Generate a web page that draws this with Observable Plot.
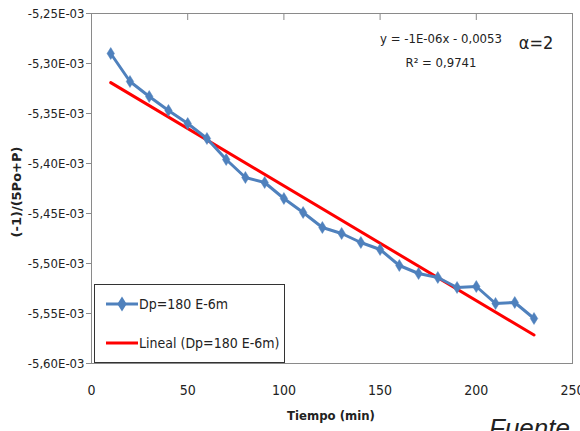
<!DOCTYPE html>
<html><head><meta charset="utf-8">
<script src="https://cdn.jsdelivr.net/npm/d3@7"></script>
<script src="https://cdn.jsdelivr.net/npm/@observablehq/plot@0.6"></script>
<style>
html,body{margin:0;padding:0;background:#fff;}
#chart{width:580px;height:431px;overflow:hidden;}
</style></head>
<body><div id="chart"></div>
<script>
const tiempo = [10,20,30,40,50,60,70,80,90,100,110,120,130,140,150,160,170,180,190,200,210,220,230];
const valor = [-5.290,-5.318,-5.333,-5.347,-5.360,-5.375,-5.396,-5.414,-5.419,-5.435,-5.449,-5.464,-5.470,-5.479,-5.486,-5.502,-5.510,-5.514,-5.524,-5.523,-5.540,-5.539,-5.555].map(v => v * 1e-3);
const yTicks = [-5.25e-3,-5.30e-3,-5.35e-3,-5.40e-3,-5.45e-3,-5.50e-3,-5.55e-3,-5.60e-3];
const xTicks = [0,50,100,150,200,250];
const topTicks = [50,100,150,200];
const seriesName = "Dp=180 E-6m";
const trendName = "Lineal (Dp=180 E-6m)";
const equation = "y = -1E-06x - 0,0053";
const r2 = "R² = 0,9741";
const alphaText = "α=2";

const data = tiempo.map((t,i) => ({t, v: valor[i]}));
const font = "'DejaVu Sans Condensed',sans-serif";
const blue = "#4F81BD", red = "#FF0000";
const fmtY = d => (d*1000).toFixed(2).replace(".", ",") + "E-03";
const narrowDiamond = {
  draw(ctx, size) {
    const h = Math.sqrt(size) * 0.75, w = h * 0.62;
    ctx.moveTo(0, -h); ctx.lineTo(w, 0); ctx.lineTo(0, h); ctx.lineTo(-w, 0); ctx.closePath();
  }
};

const plot = Plot.plot({
  width: 580, height: 431,
  marginLeft: 91, marginRight: 8, marginTop: 13, marginBottom: 68,
  style: {fontFamily: font, fontSize: "13px", color: "#222", background: "#fff"},
  x: {domain: [0, 250]},
  y: {domain: [-5.60e-3, -5.25e-3]},
  marks: [
    Plot.frame({stroke: "#8a8a8a", strokeWidth: 1}),
    Plot.ruleX(topTicks, {x: d => d, y1: -5.25e-3, y2: -5.257e-3, stroke: "#8a8a8a"}),
    Plot.axisY(yTicks, {tickFormat: fmtY, tickSize: 5, tickPadding: 2, stroke: "#8a8a8a", fontSize: 13, label: null}),
    Plot.axisX(xTicks, {tickSize: 0, tickPadding: 22, fontSize: 14, label: null}),
    Plot.linearRegressionY(data, {x: "t", y: "v", stroke: red, strokeWidth: 3, ci: 0}),
    Plot.line(data, {x: "t", y: "v", stroke: blue, strokeWidth: 3}),
    Plot.dot(data, {x: "t", y: "v", symbol: narrowDiamond, r: 4.5, fill: blue, stroke: blue, strokeWidth: 0.5})
  ]
});
const svg = d3.select(plot);
svg.attr("font-family", font);
// Axis titles
svg.append("text").attr("transform", "translate(21,192) rotate(-90)")
  .attr("text-anchor", "middle").attr("font-weight", "bold").attr("font-size", 13)
  .attr("font-family", "'DejaVu Sans',sans-serif").text("(-1)/(5Po+P)");
svg.append("text").attr("x", 331).attr("y", 420).attr("text-anchor", "middle")
  .attr("font-weight", "bold").attr("font-size", 13).text("Tiempo (min)");
// Equation & alpha
svg.append("text").attr("x", 441).attr("y", 43).attr("text-anchor", "middle").attr("font-size", 13).text(equation);
svg.append("text").attr("x", 441).attr("y", 67).attr("text-anchor", "middle").attr("font-size", 13).text(r2);
svg.append("text").attr("x", 536).attr("y", 49).attr("text-anchor", "middle").attr("font-size", 18).text(alphaText);
// Legend
const lg = svg.append("g").attr("text-anchor", "start");
lg.append("rect").attr("x", 94.5).attr("y", 284.5).attr("width", 190).attr("height", 78)
  .attr("fill", "#fff").attr("stroke", "#333").attr("stroke-width", 1);
lg.append("line").attr("x1", 106).attr("x2", 138).attr("y1", 304).attr("y2", 304).attr("stroke", blue).attr("stroke-width", 3);
lg.append("path").attr("d", d3.symbol(narrowDiamond, 100)()).attr("transform", "translate(122,304)").attr("fill", blue);
lg.append("text").attr("x", 139).attr("y", 309).attr("font-size", 14).text(seriesName);
lg.append("line").attr("x1", 106).attr("x2", 138).attr("y1", 343).attr("y2", 343).attr("stroke", red).attr("stroke-width", 3);
lg.append("text").attr("x", 139).attr("y", 348).attr("font-size", 14).text(trendName);
// Source text (cut off at bottom, as in the reference)
svg.append("text").attr("x", 489).attr("y", 437).attr("text-anchor", "start").attr("font-size", 26).attr("font-style", "italic")
  .attr("font-family", "'Liberation Sans',Arial,sans-serif").text("Fuente");
document.getElementById("chart").appendChild(plot);
</script></body></html>
